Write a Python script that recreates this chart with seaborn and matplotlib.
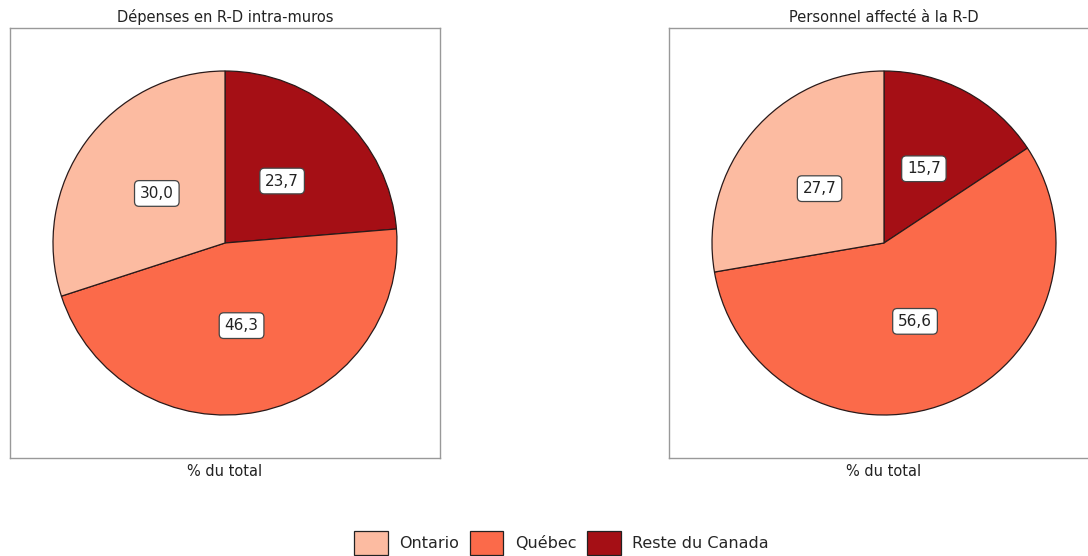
import matplotlib
matplotlib.use("Agg")
import matplotlib.pyplot as plt
import seaborn as sns
from matplotlib.patches import Patch

regions = ["Reste du Canada", "Québec", "Ontario"]
depenses = [23.7, 46.3, 30.0]
personnel = [15.7, 56.6, 27.7]
titles = ["Dépenses en R-D intra-muros", "Personnel affecté à la R-D"]
legend_order = ["Ontario", "Québec", "Reste du Canada"]

sns.set_style("white")
plt.rcParams["font.family"] = ["DejaVu Sans"]

colors = dict(zip(legend_order, sns.color_palette(["#FCBBA1", "#FB6A4A", "#A50F15"])))

fig = plt.figure(figsize=(10.88, 5.56), dpi=100)
W, H = 1088, 556
boxes = [(10, 28, 430, 430), (669, 28, 430, 430)]


def fmt(v):
    return f"{v:.1f}".replace(".", ",")


for (x0, y0, w, h), vals, title in zip(boxes, [depenses, personnel], titles):
    ax = fig.add_axes([x0 / W, 1 - (y0 + h) / H, w / W, h / H])
    wedges, texts, autotexts = ax.pie(
        vals,
        colors=[colors[r] for r in regions],
        startangle=90,
        counterclock=False,
        autopct=lambda p: fmt(p),
        pctdistance=0.49,
        frame=True,
        wedgeprops=dict(edgecolor="#2a1a1a", linewidth=0.9),
        textprops=dict(fontsize=11, color="#222222"),
    )
    for t, v in zip(autotexts, vals):
        t.set_text(fmt(v))
        t.set_bbox(dict(boxstyle="round,pad=0.35,rounding_size=0.3", fc="white", ec="#444444", lw=0.9))
    lim = 215 / 172
    ax.set_xlim(-lim, lim)
    ax.set_ylim(-lim, lim)
    ax.set_aspect("equal", adjustable="box")
    for s in ax.spines.values():
        s.set_visible(True)
        s.set_color("#999999")
        s.set_linewidth(1)
    ax.set_xticks([])
    ax.set_yticks([])
    ax.set_title(title, fontsize=10.5, color="#222222", pad=4)
    ax.set_xlabel("% du total", fontsize=10.5, color="#222222", labelpad=4)

handles = [Patch(facecolor=colors[r], edgecolor="#222222", linewidth=0.9) for r in legend_order]
fig.legend(handles, legend_order, loc="center", bbox_to_anchor=(0.516, 1 - 543 / H),
           ncol=3, frameon=False, fontsize=11.5, handlelength=2.1, handleheight=1.9,
           handletextpad=0.7, columnspacing=0.7)

fig.savefig("out.png", dpi=100)
